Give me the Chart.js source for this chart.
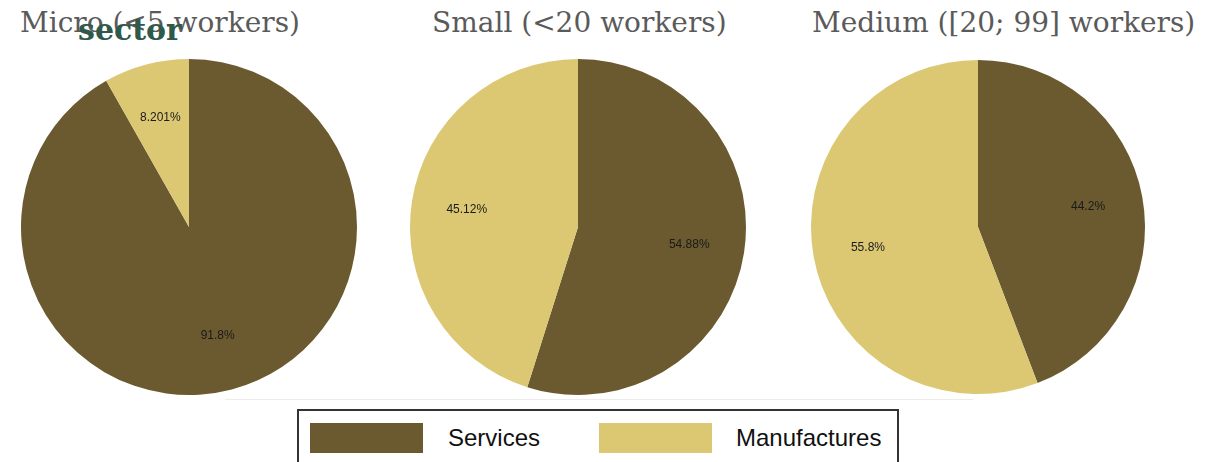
<!DOCTYPE html>
<html lang="en">
<head>
    <meta charset="UTF-8">
    <title>Workers by sector</title>
    <script src="https://cdn.jsdelivr.net/npm/chart.js"></script>
    <style>
        body, html {
            margin: 0;
            background: #fff;
            width: 1223px;
            height: 462px;
            overflow: hidden;
        }
        .wrap { position: relative; width: 1223px; height: 462px; }
        .title {
            position: absolute;
            top: 6px;
            font-family: "DejaVu Serif", serif;
            font-size: 28px;
            color: #5a5a5a;
            white-space: nowrap;
        }
        .sector {
            position: absolute;
            left: 78px;
            top: 12px;
            font-family: "DejaVu Serif", serif;
            font-weight: bold;
            font-size: 30px;
            color: #2f5a4b;
        }
        canvas.pie { position: absolute; }
        .rule {
            position: absolute; left: 225px; top: 399px; width: 748px;
            border-top: 1px solid #ececec;
        }
        .legend {
            position: absolute; left: 297px; top: 409px; width: 598px; height: 70px;
            border: 2px solid #333;
        }
        .legend .sw { position: absolute; top: 12px; width: 113px; height: 30px; }
        .legend .lb {
            position: absolute; top: 13px;
            font-family: "Liberation Sans", Arial, sans-serif;
            font-size: 24px; color: #111;
        }
    </style>
</head>
<body>
<div class="wrap">
    <div class="title" id="t0" style="left:20px">Micro (&lt;5 workers)</div>
    <div class="title" id="t1" style="left:432px">Small (&lt;20 workers)</div>
    <div class="title" id="t2" style="left:812px">Medium ([20; 99] workers)</div>
    <div class="sector">sector</div>
    <canvas class="pie" id="c0" style="left:19px;top:57px" width="340" height="340"></canvas>
    <canvas class="pie" id="c1" style="left:408px;top:57px" width="340" height="340"></canvas>
    <canvas class="pie" id="c2" style="left:809px;top:58px" width="338" height="338"></canvas>
    <div class="rule"></div>
    <div class="legend" id="legend"></div>
</div>
<script>
    const categories = ['Services', 'Manufactures'];
    const colors = ['#6b5a2f', '#dcc873'];
    const microValues = [91.8, 8.201];
    const smallValues = [54.88, 45.12];
    const mediumValues = [44.2, 55.8];
    const microLabels = ['91.8%', '8.201%'];
    const smallLabels = ['54.88%', '45.12%'];
    const mediumLabels = ['44.2%', '55.8%'];

    // percentage text inside each slice
    const sliceLabels = {
        id: 'sliceLabels',
        afterDatasetsDraw(chart, args, opts) {
            const ctx = chart.ctx;
            const meta = chart.getDatasetMeta(0);
            ctx.save();
            ctx.font = '12px "Liberation Sans", Arial, sans-serif';
            ctx.fillStyle = '#1a1a1a';
            ctx.textAlign = 'center';
            ctx.textBaseline = 'middle';
            meta.data.forEach((arc, i) => {
                const mid = (arc.startAngle + arc.endAngle) / 2;
                const r = arc.outerRadius * 0.67;
                ctx.fillText(opts.labels[i], arc.x + Math.cos(mid) * r, arc.y + Math.sin(mid) * r);
            });
            ctx.restore();
        }
    };

    function createPie(id, values, labels) {
        return new Chart(document.getElementById(id), {
            type: 'pie',
            data: {
                labels: categories,
                datasets: [{
                    data: values,
                    backgroundColor: colors,
                    borderWidth: 0
                }]
            },
            options: {
                responsive: false,
                animation: false,
                layout: { padding: 2 },
                plugins: {
                    legend: { display: false },
                    tooltip: { enabled: false },
                    sliceLabels: { labels: labels }
                }
            },
            plugins: [sliceLabels]
        });
    }

    createPie('c0', microValues, microLabels);
    createPie('c1', smallValues, smallLabels);
    createPie('c2', mediumValues, mediumLabels);

    const legend = document.getElementById('legend');
    const swX = [11, 300];
    const lbX = [149, 437];
    categories.forEach((name, i) => {
        const sw = document.createElement('div');
        sw.className = 'sw';
        sw.style.left = swX[i] + 'px';
        sw.style.background = colors[i];
        legend.appendChild(sw);
        const lb = document.createElement('div');
        lb.className = 'lb';
        lb.style.left = lbX[i] + 'px';
        lb.textContent = name;
        legend.appendChild(lb);
    });
</script>
</body>
</html>
